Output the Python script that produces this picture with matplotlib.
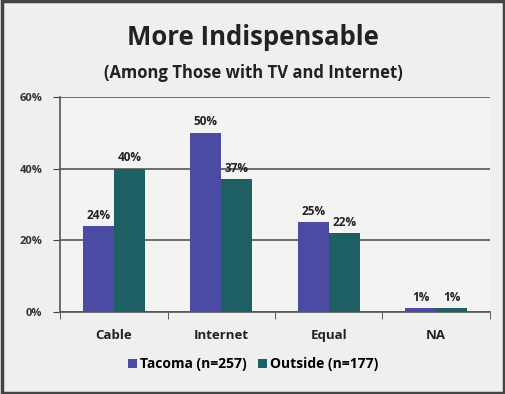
import numpy as np
import matplotlib.pyplot as plt

categories = ['Cable', 'Internet', 'Equal', 'NA']
tacoma = [24, 50, 25, 1]
outside = [40, 37, 22, 1]
series_names = ['Tacoma (n=257)', 'Outside (n=177)']
yticks = [0, 20, 40, 60]

plt.rcParams['font.family'] = ['Open Sans', 'DejaVu Sans']
plt.rcParams['font.weight'] = 'bold'

fig = plt.figure(figsize=(5.06, 3.94), dpi=100)
fig.patch.set_facecolor('#efefed')
ax = fig.add_axes([0.119, 0.208, 0.849, 0.546])
ax.set_facecolor('#f3f3f1')

x = np.arange(len(categories))
w = 0.29
b1 = ax.bar(x - w / 2, tacoma, w, color='#4b4ba3', label=series_names[0], zorder=3)
b2 = ax.bar(x + w / 2, outside, w, color='#1e5f63', label=series_names[1], zorder=3)

for bars, vals in ((b1, tacoma), (b2, outside)):
    for r, v in zip(bars, vals):
        ax.text(r.get_x() + r.get_width() / 2, v + 1.2, f'{v}%', ha='center', va='bottom',
                fontsize=8.5, fontweight='bold', color='#222222', zorder=4)

ax.set_ylim(0, 60)
ax.set_xlim(-0.5, len(categories) - 0.5)
ax.set_yticks(yticks)
ax.set_yticklabels([f'{t}%' for t in yticks], fontsize=8, fontweight='bold', color='#333333')
ax.set_xticks(x)
ax.set_xticklabels(categories, fontsize=9.5, fontweight='bold', color='#222222')
ax.set_xticks(np.arange(-0.5, len(categories)), minor=True)
ax.tick_params(axis='x', which='major', length=0, pad=12)
ax.tick_params(axis='x', which='minor', length=5, color='#444444', direction='out')
ax.tick_params(axis='y', length=5, color='#444444', direction='out', pad=8)
ax.yaxis.grid(True, color='#555555', linewidth=1.2, zorder=0)
for s in ['top', 'right']:
    ax.spines[s].set_visible(False)
ax.spines['left'].set_color('#555555')
ax.spines['bottom'].set_color('#555555')
ax.spines['left'].set_linewidth(1.2)
ax.spines['bottom'].set_linewidth(1.2)

fig.text(0.5, 0.905, 'More Indispensable', ha='center', va='center', fontsize=18.5,
         fontweight='bold', color='#222222')
fig.text(0.5, 0.815, '(Among Those with TV and Internet)', ha='center', va='center',
         fontsize=12, fontweight='bold', color='#222222')

leg = fig.legend(handles=[b1, b2], labels=series_names, loc='center', bbox_to_anchor=(0.5, 0.075),
                 ncol=2, frameon=False, fontsize=10, handlelength=0.7, handleheight=0.7,
                 handletextpad=0.2, columnspacing=0.8)
for t in leg.get_texts():
    t.set_fontweight('bold')

fig.add_artist(plt.Rectangle((0.003, 0.003), 0.994, 0.994, transform=fig.transFigure,
                             fill=False, edgecolor='#444444', linewidth=2.5))

fig.savefig('out.png', dpi=100, facecolor=fig.get_facecolor())
